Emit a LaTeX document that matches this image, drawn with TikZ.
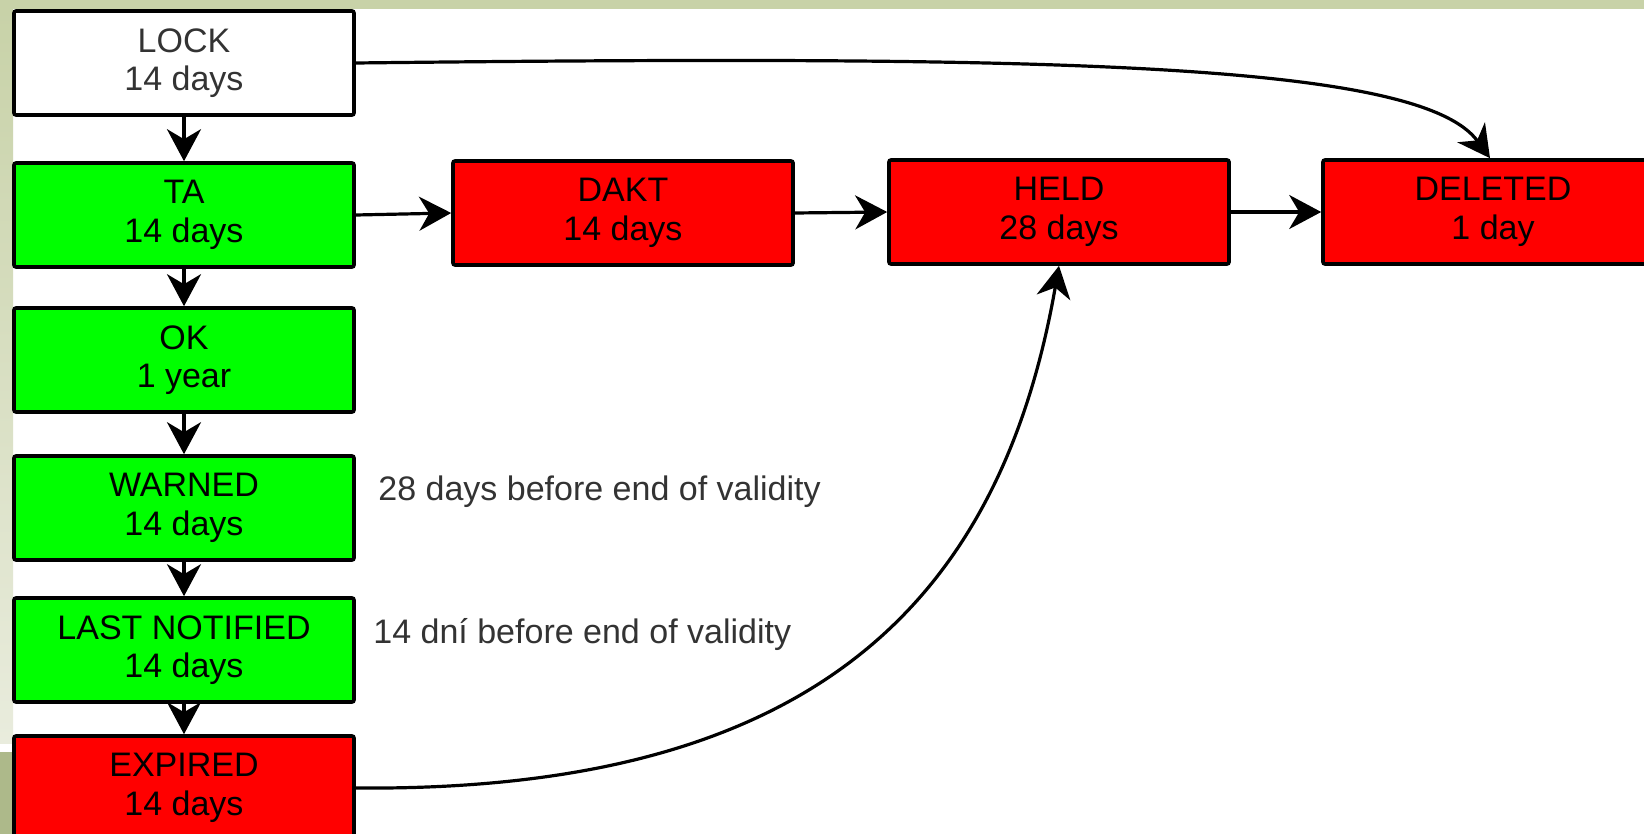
\documentclass[tikz,border=0pt]{standalone}
\usepackage{fontspec}
\setmainfont{Liberation Sans}
\usepackage{xcolor}
\usetikzlibrary{arrows.meta}

\definecolor{barolive}{HTML}{C8D2A8}
\definecolor{barlight}{HTML}{E9ECDD}
\definecolor{bardark}{HTML}{ADB98A}
\definecolor{notegray}{HTML}{333333}

\tikzset{
  statebox/.style={draw=black, line width=1.8pt, rounded corners=1pt,
    minimum width=170pt, minimum height=52pt, inner sep=0pt, align=center,
    font=\fontsize{17}{19.3}\selectfont},
  lockstate/.style={statebox, fill=white, text=notegray},
  okstate/.style={statebox, fill=green},
  badstate/.style={statebox, fill=red},
  note/.style={anchor=base west, inner sep=0pt, text=notegray,
    font=\fontsize{17}{19.3}\selectfont},
  flow/.style={line width=1.6pt, -{Stealth[length=16pt,width=17pt,inset=5pt]}}
}

\begin{document}
\begin{tikzpicture}[x=0.5pt, y=-0.5pt]
     \useasboundingbox (0,0) rectangle (1644,834);
     % slide background
     \fill[white] (0,0) rectangle (1644,834);
     \fill[barolive] (0,0) rectangle (1644,9);
     \shade[top color=barolive, bottom color=barlight] (0,9) rectangle (13,743);
     \fill[bardark] (0,752) rectangle (13,834);
     % states
     \node[lockstate] (lock) at (184,63) {LOCK\\14 days};
     \node[okstate] (ta) at (184,215) {TA\\14 days};
     \node[okstate] (ok) at (184,360) {OK\\1 year};
     \node[okstate] (warned) at (184,508) {WARNED\\14 days};
     \node[okstate] (notified) at (184,650) {LAST NOTIFIED\\14 days};
     \node[badstate] (expired) at (184,788) {EXPIRED\\14 days};
     \node[badstate] (dakt) at (623,213) {DAKT\\14 days};
     \node[badstate] (held) at (1059,212) {HELD\\28 days};
     \node[badstate] (deleted) at (1493,212) {DELETED\\1 day};
     % notes
     \node[note] (warnnote) at (378,500) {28 days before end of validity};
     \node[note] (lastnote) at (373,643) {14 dní before end of validity};
     % transitions
     \draw[flow] (lock) -- (ta);
     \draw[flow] (ta) -- (ok);
     \draw[flow] (ok) -- (warned);
     \draw[flow] (warned) -- (notified);
     \draw[flow] (notified) -- (expired);
     \draw[flow] (ta.east) -- (dakt.west);
     \draw[flow] (dakt.east) -- (held.west);
     \draw[flow] (held.east) -- (deleted.west);
     \draw[flow] (lock.east) .. controls (1050,55) and (1420,62) .. ([xshift=-1.5pt]deleted.north);
     \draw[flow] (expired.east) .. controls (799,792) and (998,615) .. (held.south);
\end{tikzpicture}
\end{document}
